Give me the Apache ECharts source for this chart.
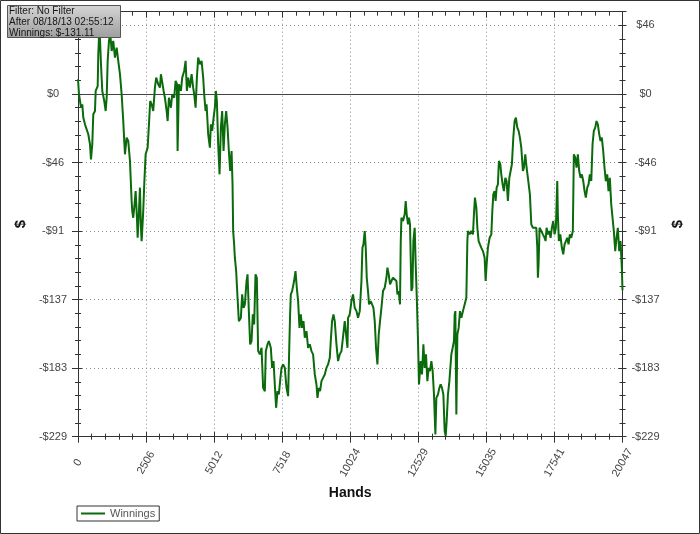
<!DOCTYPE html>
<html><head><meta charset="utf-8">
<style>html,body{margin:0;padding:0;background:#fff}#chart{width:700px;height:534px}</style>
<script src="https://cdn.jsdelivr.net/npm/echarts@6/dist/echarts.min.js"></script>
</head><body><div id="chart"></div>
<script>
const hands = [0,37,110,158,195,257,320,379,441,478,526,563,625,651,725,747,772,798,846,894,967,1019,1056,1092,1140,1188,1240,1298,1361,1424,1482,1545,1607,1666,1703,1729,1791,1850,1913,1975,1997,2034,2071,2122,2170,2196,2244,2281,2317,2343,2402,2439,2490,2564,2612,2659,2711,2770,2832,2880,2954,3016,3053,3101,3152,3200,3263,3300,3347,3421,3469,3542,3594,3642,3667,3715,3789,3837,3910,3962,4009,4057,4120,4182,4241,4278,4330,4377,4425,4488,4550,4609,4646,4697,4734,4793,4855,4892,4940,4992,5039,5076,5113,5161,5212,5260,5308,5359,5407,5455,5507,5554,5602,5654,5690,5713,5749,5775,5823,5874,5922,5996,6044,6095,6143,6205,6242,6290,6338,6389,6437,6485,6536,6584,6632,6695,6757,6816,6879,6915,6978,7026,7099,7147,7199,7246,7294,7346,7394,7441,7493,7552,7614,7677,7736,7772,7809,7835,7883,7956,8008,8056,8104,8155,8203,8251,8302,8350,8413,8471,8534,8596,8655,8718,8780,8817,8865,8913,8964,9023,9086,9148,9207,9270,9306,9354,9406,9453,9516,9575,9637,9700,9759,9821,9884,9921,9943,10005,10068,10127,10189,10252,10311,10373,10436,10472,10509,10557,10594,10631,10678,10715,10778,10826,10877,10925,10973,11024,11072,11120,11171,11230,11293,11355,11392,11440,11488,11539,11598,11661,11723,11760,11808,11855,11881,11907,11966,12028,12065,12102,12150,12187,12223,12275,12312,12348,12396,12433,12481,12518,12554,12617,12665,12716,12764,12812,12863,12911,12959,13010,13058,13106,13158,13194,13253,13305,13353,13400,13452,13500,13537,13573,13621,13673,13709,13746,13794,13842,13868,13893,13930,13967,14015,14063,14114,14173,14235,14298,14335,14357,14419,14482,14541,14578,14614,14666,14703,14750,14798,14850,14909,14971,15008,15045,15092,15155,15218,15254,15291,15339,15376,15413,15460,15497,15549,15585,15633,15681,15732,15780,15828,15880,15927,15975,16027,16075,16122,16174,16222,16270,16321,16380,16417,16468,16516,16564,16638,16689,16748,16810,16873,16910,16932,16957,16994,17057,17116,17178,17215,17252,17300,17351,17399,17447,17498,17546,17594,17645,17667,17704,17756,17815,17866,17914,17962,18013,18061,18109,18160,18219,18256,18307,18355,18403,18453,18502,18550,18602,18650,18697,18749,18797,18845,18897,18944,18992,19043,19091,19139,19190,19238,19286,19337,19385,19433,19485,19532,19580,19632,19680,19728,19779,19827,19875,19926,19974,20022,20047];
const winnings = [9.8,-0.2,-9.2,-6.9,-15.8,-20.3,-19.2,-26.9,-33.6,-43.7,-33.6,-13.6,-11.4,2.0,5.3,26.5,37.6,42.1,19.9,2.0,-4.7,-11.4,-2.5,22.1,35.4,40.1,28.7,35.4,24.3,31.0,22.1,13.2,-0.2,-18.1,-31.4,-40.3,-29.2,-31.4,-44.8,-71.5,-78.2,-82.7,-76.0,-64.9,-82.7,-96.1,-78.2,-62.6,-89.4,-98.3,-78.2,-60.4,-40.3,-35.9,-20.3,-4.7,-6.9,-11.4,4.2,10.9,6.5,4.2,13.2,13.2,2.0,-2.5,-11.4,-18.1,-2.5,-9.2,-0.2,-2.5,8.7,6.5,-38.1,6.5,2.0,10.9,15.4,22.1,2.0,10.9,4.2,13.2,4.2,-0.2,-9.2,10.9,24.3,19.9,22.1,10.9,-0.2,-11.4,-6.9,-26.9,-35.9,-20.3,-24.7,-15.8,-9.2,2.0,-4.7,-33.6,-53.7,-22.5,-11.4,-38.1,-20.3,-11.4,-22.5,-38.1,-51.5,-38.1,-60.4,-91.6,-100.5,-109.4,-118.3,-136.2,-151.8,-149.6,-133.9,-142.9,-140.6,-125.0,-120.5,-145.1,-167.3,-165.1,-147.3,-154.0,-120.5,-122.8,-171.8,-174.0,-169.6,-196.4,-198.6,-171.8,-167.3,-165.1,-169.6,-183.0,-178.5,-194.1,-209.7,-198.6,-200.8,-191.9,-183.0,-180.7,-183.0,-196.4,-201.9,-174.0,-147.3,-133.9,-131.7,-125.0,-118.3,-129.5,-138.4,-156.3,-147.3,-156.3,-151.8,-162.9,-158.5,-169.6,-167.3,-171.8,-174.0,-187.4,-194.1,-203.1,-196.4,-198.6,-191.9,-189.7,-187.4,-183.0,-180.7,-176.3,-165.1,-151.8,-147.3,-151.8,-167.3,-178.5,-174.0,-171.8,-171.8,-151.8,-151.8,-169.6,-149.6,-147.3,-138.4,-133.9,-142.9,-145.1,-149.6,-145.1,-125.0,-102.8,-100.5,-91.6,-102.8,-122.8,-131.7,-140.6,-138.4,-140.6,-142.9,-151.8,-169.6,-180.7,-160.7,-151.8,-142.9,-131.7,-129.5,-122.8,-116.1,-120.5,-127.2,-125.0,-122.8,-122.8,-125.0,-133.9,-131.7,-140.6,-100.5,-82.7,-84.9,-80.4,-71.5,-80.4,-87.1,-82.7,-87.1,-131.7,-129.5,-98.3,-89.4,-113.9,-140.6,-165.1,-194.1,-178.5,-187.4,-167.3,-183.0,-174.0,-191.9,-183.0,-185.2,-178.5,-185.2,-200.8,-227.5,-203.1,-200.8,-196.4,-194.1,-196.4,-200.8,-225.3,-228.5,-218.6,-200.8,-191.9,-183.0,-174.0,-169.6,-165.1,-147.3,-145.1,-214.2,-160.7,-156.3,-145.1,-149.6,-145.1,-140.6,-136.2,-98.3,-91.6,-93.8,-91.6,-93.8,-80.4,-69.3,-76.0,-89.4,-98.3,-100.5,-102.8,-105.0,-109.4,-125.0,-113.9,-102.8,-96.1,-93.8,-78.2,-67.1,-64.9,-71.5,-62.6,-60.4,-44.8,-47.0,-53.7,-60.4,-64.9,-56.0,-58.2,-71.5,-56.0,-56.0,-47.0,-29.2,-18.1,-15.8,-22.5,-24.7,-29.2,-35.9,-51.5,-49.3,-40.3,-49.3,-56.0,-67.1,-87.1,-89.4,-88.3,-89.4,-102.8,-122.8,-113.9,-89.4,-91.6,-93.8,-96.1,-98.3,-89.4,-93.8,-91.6,-96.1,-89.4,-84.9,-93.8,-89.4,-58.2,-80.4,-98.3,-93.8,-102.8,-107.2,-100.5,-98.3,-96.1,-100.5,-93.8,-96.1,-91.6,-40.3,-42.6,-49.3,-40.3,-51.5,-56.0,-53.7,-58.2,-64.9,-69.3,-62.6,-60.4,-53.7,-58.2,-33.6,-24.7,-22.5,-18.1,-20.3,-26.9,-31.4,-29.2,-38.1,-49.3,-58.2,-53.7,-64.9,-56.0,-73.7,-82.7,-91.6,-105.0,-96.1,-89.4,-105.0,-98.3,-116.1,-131.11];
const xTickLabels = ['0','2506','5012','7518','10024','12529','15035','17541','20047'];
const yTickLabels = ['-$229','-$183','-$137','-$91','-$46','$0','$46'];
const infoLines = ['Filter: No Filter','After 08/18/13 02:55:12','Winnings: $-131.11'];
const seriesName = 'Winnings';
const xTitle = 'Hands';
const yTitle = '$';

const xMin = 0, xMax = 20047, xStep = (xMax - xMin) / (xTickLabels.length - 1);
const yMin = -229, yStep = 45.8, yMax = 54.96;
const FONT = '"Liberation Sans", Arial, sans-serif';
const AX = '#333';
const GREEN = '#0b6a0b';

function pick(labels, v, mn, step) {
  const i = Math.round((v - mn) / step);
  if (i < 0 || i >= labels.length) return '';
  if (Math.abs(v - (mn + i * step)) > step * 1e-3) return '';
  return labels[i];
}
const off = {axisLine:{show:false,onZero:false}, axisTick:{show:false}, axisLabel:{show:false}, splitLine:{show:false}};
function xAx(o){ return Object.assign({type:'value', min:xMin, max:xMax, position:'bottom'}, off, o); }
function yAx(o){ return Object.assign({type:'value', min:yMin, max:yMax, position:'left'}, off, o); }
function tick(inside, len){ return {show:true, inside:inside, length:len, lineStyle:{color:AX, width:1}}; }

const chart = echarts.init(document.getElementById('chart'), null, {renderer:'canvas'});
chart.setOption({
  animation:false,
  backgroundColor:'#ffffff',
  grid:{left:78, right:77.5, top:11.7, bottom:97.3, containLabel:false},
  xAxis:[
    xAx({interval:xStep, axisLine:{show:true,onZero:false,lineStyle:{color:AX,width:1}}, axisTick:tick(false,6),
      axisLabel:{show:true, rotate:60, margin:26, align:'center', verticalAlign:'middle', color:'#444', fontSize:11, fontFamily:FONT,
        formatter:v=>pick(xTickLabels, v, xMin, xStep)},
      splitLine:{show:true, lineStyle:{color:'#8a8a8a', width:1, type:[1,3]}},
      name:xTitle, nameLocation:'middle', nameGap:49, nameTextStyle:{fontWeight:'bold', fontSize:14, color:'#111', fontFamily:FONT}}),
    xAx({interval:xStep, axisTick:tick(true,5)}),
    xAx({interval:xStep/5, axisTick:tick(false,3)}),
    xAx({interval:xStep/5, axisTick:tick(true,3)}),
    xAx({position:'top', interval:xStep, axisLine:{show:true,onZero:false,lineStyle:{color:AX,width:1}}, axisTick:tick(true,6)}),
    xAx({position:'top', interval:xStep/5, axisTick:tick(true,4)}),
    xAx({axisLine:{show:true, onZero:true, onZeroAxisIndex:0, lineStyle:{color:'#444', width:1}}})
  ],
  yAxis:[
    yAx({interval:yStep, axisLine:{show:true,onZero:false,lineStyle:{color:AX,width:1}}, axisTick:tick(false,6),
      axisLabel:{show:true, margin:25, align:'center', color:'#444', fontSize:11, fontFamily:FONT,
        formatter:v=>pick(yTickLabels, v, yMin, yStep)},
      splitLine:{show:true, lineStyle:{color:'#8a8a8a', width:1, type:[1,3]}},
      name:yTitle, nameLocation:'middle', nameGap:50, nameRotate:90, nameTextStyle:{fontWeight:'bold', fontSize:15, color:'#111', fontFamily:FONT}}),
    yAx({interval:yStep, axisTick:tick(true,4)}),
    yAx({interval:yStep/5, axisTick:tick(false,3)}),
    yAx({interval:yStep/5, axisTick:tick(true,3)}),
    yAx({position:'right', interval:yStep, axisLine:{show:true,onZero:false,lineStyle:{color:AX,width:1}}, axisTick:tick(false,4),
      axisLabel:{show:true, margin:23, align:'center', color:'#444', fontSize:11, fontFamily:FONT,
        formatter:v=>pick(yTickLabels, v, yMin, yStep)},
      name:yTitle, nameLocation:'middle', nameGap:48, nameRotate:90, nameTextStyle:{fontWeight:'bold', fontSize:15, color:'#111', fontFamily:FONT}}),
    yAx({position:'right', interval:yStep, axisTick:tick(true,4)}),
    yAx({position:'right', interval:yStep/5, axisTick:tick(false,3)}),
    yAx({position:'right', interval:yStep/5, axisTick:tick(true,3)})
  ],
  legend:{left:77, top:506, padding:[2,4,2,4], itemWidth:24, itemHeight:2, icon:'rect', borderColor:'#333', borderWidth:1, borderRadius:0,
    textStyle:{color:'#555', fontSize:11, fontFamily:FONT}, data:[seriesName]},
  series:[{
    name:seriesName, type:'line', xAxisIndex:0, yAxisIndex:0,
    data:hands.map((h,i)=>[h, winnings[i]]),
    showSymbol:false, symbol:'none', lineStyle:{color:GREEN, width:2}, itemStyle:{color:GREEN}, z:3
  }],
  graphic:[
    {type:'rect', silent:true, z:100, shape:{x:0.5,y:0.5,width:699,height:533}, style:{fill:'none', stroke:'#333', lineWidth:1}},
    {type:'rect', silent:true, z:100, shape:{x:7.5,y:5.5,width:113,height:32},
      style:{fill:new echarts.graphic.LinearGradient(0,0,0,1,[{offset:0,color:'#d6d6d6'},{offset:1,color:'#9e9e9e'}]), stroke:'#555', lineWidth:1}},
    {type:'text', silent:true, z:101, x:9, y:5.5, style:{text:infoLines.join('\n'), fill:'#151515', font:'10px ' + FONT, lineHeight:11, verticalAlign:'top'}}
  ]
});
</script>
</body></html>
